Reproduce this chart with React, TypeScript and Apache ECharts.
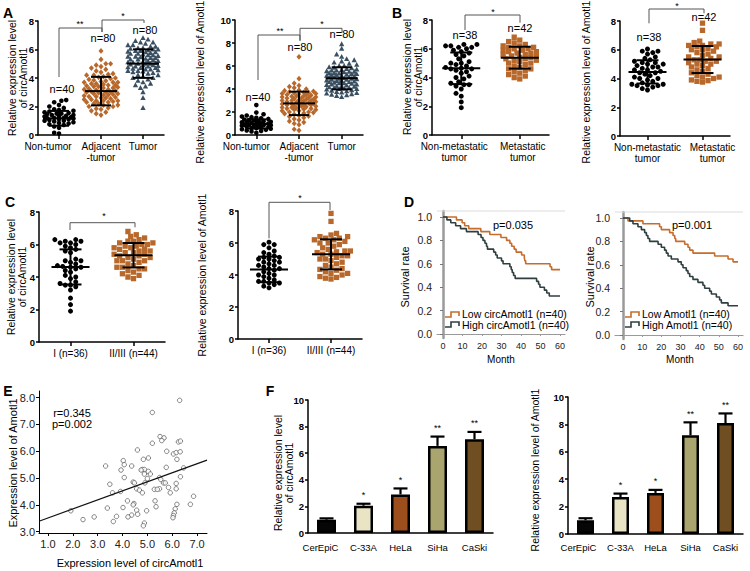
import React, { useEffect, useRef } from "react";
import * as echarts from "echarts";

const FONT = '"Liberation Sans", Arial, Helvetica, sans-serif';
const BROWN = "#b8682a";
const SLATE = "#3a5062";
const KM_LOW = "#c46d2c";
const KM_HIGH = "#2f3f40";

// ---------------- Panel A ----------------
const aCategories = ["Non-tumor", "Adjacent\n-tumor", "Tumor"];
const aCircNonTumor = [0.1, 0.15, 0.5, 0.6, 0.7, 0.75, 0.8, 0.85, 0.9, 0.95, 1.0, 1.0, 1.05, 1.1, 1.1, 1.15, 1.2, 1.2, 1.2, 1.25, 1.3, 1.3, 1.35, 1.4, 1.4, 1.45, 1.5, 1.5, 1.55, 1.6, 1.65, 1.7, 1.75, 1.8, 1.9, 2.0, 2.1, 2.3, 2.4, 2.45];
const aCircAdjacent = [1.4, 1.5, 1.6, 1.7, 1.8, 1.85, 1.9, 2.0, 2.0, 2.1, 2.1, 2.2, 2.2, 2.3, 2.3, 2.35, 2.4, 2.4, 2.5, 2.5, 2.55, 2.6, 2.6, 2.65, 2.7, 2.7, 2.75, 2.8, 2.8, 2.85, 2.9, 2.9, 2.95, 3.0, 3.0, 3.0, 3.05, 3.1, 3.1, 3.15, 3.2, 3.2, 3.25, 3.3, 3.3, 3.35, 3.4, 3.4, 3.45, 3.5, 3.5, 3.55, 3.6, 3.6, 3.7, 3.7, 3.75, 3.8, 3.85, 3.9, 3.95, 4.0, 4.05, 4.1, 4.2, 4.25, 4.3, 4.4, 4.5, 4.6, 4.7, 4.8, 4.9, 5.0, 5.0, 4.2, 3.7, 2.4, 5.3, 5.9];
const aCircTumor = [1.9, 2.6, 3.0, 3.3, 3.5, 3.6, 3.7, 3.8, 3.9, 4.0, 4.0, 4.1, 4.2, 4.2, 4.3, 4.35, 4.4, 4.45, 4.5, 4.5, 4.55, 4.6, 4.6, 4.65, 4.7, 4.7, 4.75, 4.8, 4.8, 4.85, 4.9, 4.9, 4.95, 5.0, 5.0, 5.0, 5.05, 5.1, 5.1, 5.15, 5.2, 5.2, 5.25, 5.3, 5.3, 5.35, 5.4, 5.4, 5.45, 5.5, 5.5, 5.55, 5.6, 5.6, 5.65, 5.7, 5.7, 5.75, 5.8, 5.8, 5.85, 5.9, 5.9, 5.95, 6.0, 6.0, 6.05, 6.1, 6.1, 6.2, 6.2, 6.3, 6.3, 6.4, 6.5, 6.5, 6.6, 6.7, 6.8, 3.4];
const aCircMean = [1.17, 3.08, 5.01];
const aCircSd = [0.52, 1.0, 1.0];

const aAmNonTumor = [0.2, 0.3, 0.35, 0.4, 0.45, 0.5, 0.55, 0.6, 0.6, 0.65, 0.7, 0.7, 0.75, 0.8, 0.8, 0.85, 0.85, 0.9, 0.9, 0.95, 1.0, 1.0, 1.05, 1.1, 1.1, 1.15, 1.2, 1.2, 1.25, 1.3, 1.35, 1.4, 1.45, 1.5, 1.55, 1.6, 1.7, 1.8, 1.95, 2.6];
const aAmAdjacent = [0.4, 0.5, 0.9, 1.1, 1.2, 1.3, 1.4, 1.5, 1.6, 1.65, 1.7, 1.8, 1.85, 1.9, 2.0, 2.0, 2.1, 2.1, 2.2, 2.2, 2.25, 2.3, 2.3, 2.4, 2.4, 2.45, 2.5, 2.5, 2.55, 2.6, 2.6, 2.65, 2.7, 2.7, 2.75, 2.8, 2.8, 2.85, 2.9, 2.9, 2.95, 3.0, 3.0, 3.05, 3.1, 3.1, 3.15, 3.2, 3.2, 3.25, 3.3, 3.3, 3.35, 3.4, 3.4, 3.45, 3.5, 3.5, 3.55, 3.6, 3.6, 3.65, 3.7, 3.7, 3.75, 3.8, 3.85, 3.9, 4.0, 4.1, 4.2, 4.3, 4.5, 4.9, 6.8, 1.0, 1.95, 2.35, 2.65, 3.0];
const aAmTumor = [3.3, 3.4, 3.5, 3.55, 3.6, 3.65, 3.7, 3.75, 3.8, 3.85, 3.9, 3.95, 4.0, 4.0, 4.05, 4.1, 4.15, 4.2, 4.2, 4.25, 4.3, 4.35, 4.4, 4.4, 4.45, 4.5, 4.5, 4.55, 4.6, 4.6, 4.65, 4.7, 4.7, 4.75, 4.8, 4.8, 4.85, 4.9, 4.9, 4.95, 5.0, 5.0, 5.05, 5.1, 5.1, 5.15, 5.2, 5.2, 5.25, 5.3, 5.3, 5.35, 5.4, 5.4, 5.45, 5.5, 5.5, 5.55, 5.6, 5.65, 5.7, 5.75, 5.8, 5.85, 5.9, 6.0, 6.0, 6.1, 6.2, 6.3, 6.4, 6.5, 6.6, 6.8, 7.0, 7.5, 7.9, 3.45, 4.1, 5.6];
const aAmMean = [0.96, 2.75, 4.93];
const aAmSd = [0.4, 1.02, 0.96];

// ---------------- Panel B ----------------
const bCategories = ["Non-metastatic\ntumor", "Metastatic\ntumor"];
const bCircNonMet = [1.9, 2.3, 2.7, 2.9, 3.2, 3.4, 3.5, 3.5, 3.6, 3.7, 3.9, 4.0, 4.1, 4.3, 4.4, 4.5, 4.6, 4.6, 4.65, 4.7, 4.8, 4.9, 5.0, 5.0, 5.1, 5.3, 5.5, 5.6, 5.7, 5.8, 5.9, 6.0, 6.1, 6.1, 6.2, 6.2, 6.3, 6.3];
const bCircMet = [3.9, 4.0, 4.1, 4.2, 4.3, 4.4, 4.5, 4.6, 4.6, 4.7, 4.8, 4.9, 5.0, 5.0, 5.1, 5.2, 5.2, 5.3, 5.3, 5.4, 5.4, 5.5, 5.5, 5.6, 5.6, 5.7, 5.7, 5.8, 5.8, 5.9, 5.9, 6.0, 6.0, 6.1, 6.1, 6.2, 6.2, 6.3, 6.4, 6.5, 6.6, 6.8];
const bCircMean = [4.64, 5.38];
const bCircSd = [1.1, 0.76];
const bAmNonMet = [3.2, 3.3, 3.4, 3.5, 3.5, 3.55, 3.6, 3.6, 3.7, 3.8, 3.9, 4.0, 4.0, 4.1, 4.2, 4.3, 4.4, 4.4, 4.5, 4.6, 4.6, 4.7, 4.8, 4.8, 4.9, 5.0, 5.0, 5.1, 5.1, 5.2, 5.3, 5.4, 5.5, 5.7, 5.8, 5.9, 5.9, 6.05];
const bAmMet = [3.75, 3.8, 3.85, 3.9, 4.0, 4.1, 4.1, 4.2, 4.3, 4.4, 4.5, 4.6, 4.7, 4.8, 4.9, 5.0, 5.0, 5.1, 5.2, 5.2, 5.3, 5.3, 5.4, 5.5, 5.5, 5.6, 5.7, 5.8, 5.9, 6.0, 6.0, 6.1, 6.2, 6.2, 6.3, 6.3, 6.4, 6.4, 6.5, 6.6, 7.35, 7.85];
const bAmMean = [4.46, 5.32];
const bAmSd = [0.81, 0.94];

// ---------------- Panel C ----------------
const cCategories = ["I (n=36)", "II/III (n=44)"];
const cCircStageI = [1.9, 2.3, 2.7, 3.2, 3.4, 3.5, 3.5, 3.6, 3.7, 3.9, 4.0, 4.1, 4.3, 4.4, 4.5, 4.6, 4.6, 4.65, 4.7, 4.8, 4.9, 5.0, 5.0, 5.1, 5.5, 5.6, 5.7, 5.8, 6.0, 6.1, 6.1, 6.2, 6.2, 6.3, 6.3, 5.9];
const cCircStageII = [3.9, 4.0, 4.1, 4.2, 4.3, 4.4, 4.5, 4.6, 4.6, 4.7, 4.8, 4.9, 5.0, 5.0, 5.1, 5.2, 5.2, 5.3, 5.3, 5.4, 5.4, 5.5, 5.5, 5.6, 5.6, 5.7, 5.7, 5.8, 5.8, 5.9, 5.9, 6.0, 6.0, 6.1, 6.1, 6.2, 6.2, 6.3, 6.4, 6.5, 6.6, 6.8, 4.5, 5.0];
const cCircMean = [4.62, 5.34];
const cCircSd = [1.08, 0.75];
const cAmStageI = [3.2, 3.3, 3.4, 3.5, 3.5, 3.6, 3.6, 3.7, 3.8, 3.9, 4.0, 4.0, 4.1, 4.2, 4.3, 4.4, 4.4, 4.5, 4.6, 4.6, 4.7, 4.8, 4.8, 4.9, 5.0, 5.0, 5.1, 5.1, 5.2, 5.3, 5.4, 5.5, 5.7, 5.9, 5.9, 6.05];
const cAmStageII = [3.75, 3.8, 3.85, 3.9, 4.0, 4.1, 4.1, 4.2, 4.3, 4.4, 4.5, 4.6, 4.7, 4.8, 4.9, 5.0, 5.0, 5.1, 5.2, 5.2, 5.3, 5.3, 5.4, 5.5, 5.5, 5.6, 5.7, 5.8, 5.9, 6.0, 6.0, 6.1, 6.2, 6.2, 6.3, 6.3, 6.4, 6.4, 6.5, 6.6, 7.35, 7.85, 4.35, 5.45];
const cAmMean = [4.35, 5.29];
const cAmSd = [0.8, 0.94];

// ---------------- Panel D (Kaplan-Meier) ----------------
const kmMonthTicks = [0, 10, 20, 30, 40, 50, 60];
const kmSurvivalTicks = [0, 0.2, 0.4, 0.6, 0.8, 1.0];
const kmLowCirc = [[0, 1], [6.9, 0.975], [9.8, 0.95], [11.1, 0.925], [13.2, 0.9], [19.4, 0.875], [24, 0.85], [29.7, 0.825], [32.6, 0.8], [34.3, 0.775], [35.2, 0.75], [36.5, 0.725], [37.5, 0.7], [40.3, 0.675], [41.7, 0.65], [42, 0.625], [42.4, 0.6], [54.9, 0.575], [55.7, 0.55], [60, 0.55]];
const kmHighCirc = [[0, 1], [2, 0.975], [4, 0.95], [6.5, 0.925], [9, 0.9], [12, 0.875], [18, 0.85], [19.5, 0.825], [20.5, 0.8], [21.5, 0.775], [22.3, 0.75], [22.8, 0.725], [26, 0.7], [27, 0.675], [27.8, 0.65], [30, 0.625], [30.8, 0.6], [34.3, 0.575], [35, 0.55], [35.5, 0.525], [36.2, 0.5], [37, 0.475], [48, 0.45], [49, 0.425], [49.7, 0.4], [52, 0.375], [53.2, 0.35], [54.5, 0.325], [60, 0.325]];
const kmLowAm = [[0, 1], [2.6, 0.975], [10.4, 0.95], [19.1, 0.925], [20, 0.9], [24.3, 0.875], [26.1, 0.85], [27, 0.825], [27.5, 0.8], [32.2, 0.775], [33.9, 0.75], [34.8, 0.725], [36.5, 0.7], [47.8, 0.675], [54.8, 0.65], [57.4, 0.625], [60, 0.625]];
const kmHighAm = [[0, 1], [3.5, 0.975], [5.2, 0.95], [7.8, 0.925], [9.6, 0.9], [11.3, 0.875], [12.2, 0.85], [13, 0.825], [13.9, 0.8], [18.3, 0.775], [20, 0.75], [21.7, 0.725], [22.6, 0.7], [23.5, 0.675], [25.2, 0.65], [28.7, 0.625], [30.4, 0.6], [31.3, 0.575], [33, 0.55], [33.9, 0.525], [34.8, 0.5], [36.5, 0.475], [39.1, 0.45], [41.7, 0.425], [42.6, 0.4], [45.2, 0.375], [46.1, 0.35], [48.7, 0.325], [50.4, 0.3], [51.3, 0.275], [54.8, 0.25], [60, 0.25]];

// ---------------- Panel E (correlation) ----------------
const eXTicks = [1, 2, 3, 4, 5, 6, 7];
const eYTicks = [3, 4, 5, 6, 7, 8];
const ePoints = [[6.3, 7.9], [5.2, 7.45], [3.32, 5.45], [4.03, 5.65], [4.07, 5.5], [3.94, 5.3], [4.37, 5.45], [4.6, 6.05], [4.84, 5.7], [4.8, 5.32], [4.88, 5.32], [5.04, 5.75], [5.04, 5.25], [4.88, 5.15], [4.07, 5.02], [3.49, 4.77], [3.6, 4.45], [3.92, 4.5], [4.2, 4.15], [4.43, 4.85], [4.48, 4.82], [4.57, 4.6], [4.68, 4.55], [4.8, 4.45], [4.9, 4.82], [5.0, 4.98], [5.12, 5.15], [5.2, 6.3], [5.28, 4.58], [5.31, 4.15], [5.35, 3.93], [5.51, 6.55], [5.67, 6.5], [5.58, 6.4], [5.78, 6.0], [5.49, 5.02], [5.54, 4.95], [5.65, 4.82], [5.72, 4.82], [5.76, 5.4], [5.85, 4.65], [5.92, 4.45], [5.49, 4.6], [6.05, 5.9], [6.16, 5.95], [6.25, 6.35], [6.33, 6.38], [6.32, 5.98], [6.19, 5.7], [6.46, 5.38], [6.33, 5.05], [6.16, 4.8], [6.16, 4.6], [6.19, 4.02], [6.12, 3.85], [6.08, 3.7], [6.05, 3.6], [6.03, 3.52], [6.73, 4.02], [6.86, 4.32], [4.46, 4.05], [4.43, 4.0], [4.57, 3.8], [4.61, 3.65], [4.37, 3.62], [4.22, 3.55], [4.97, 3.78], [4.88, 3.32], [4.84, 3.22], [3.39, 3.88], [3.76, 3.57], [3.63, 3.38], [2.86, 3.55], [2.41, 3.45], [1.92, 3.78], [4.02, 3.9], [4.75, 5.3], [5.4, 4.58]];
const eFitLine = [[0.64, 3.39], [7.4, 5.67]];

// ---------------- Panel F (cell lines) ----------------
const fCells = ["CerEpiC", "C-33A", "HeLa", "SiHa", "CaSki"];
const fColors = ["#060606", "#e8e4c4", "#9c4f1c", "#aaa46e", "#6f4e22"];
const fCircValues = [1.0, 2.05, 2.9, 6.55, 7.05];
const fCircErr = [0.1, 0.15, 0.45, 0.7, 0.55];
const fAmValues = [1.0, 2.7, 3.0, 7.2, 8.1];
const fAmErr = [0.15, 0.25, 0.22, 0.95, 0.7];
const fSignificance = ["", "*", "*", "**", "**"];

// ---------------- helpers ----------------
function beeswarm(values: number[], pxPerUnit: number, d: number, maxHalf: number) {
  const order = values.map((_, i) => i).sort((a, b) => values[a] - values[b]);
  const placed: { x: number; y: number }[] = [];
  const off = new Array(values.length).fill(0);
  const step = d * 0.55;
  order.forEach((i, n) => {
    const y = values[i] * pxPerUnit;
    const sign = n % 2 === 0 ? 1 : -1;
    let chosen = 0;
    let bestScore = -1;
    let found = false;
    for (let k = 0; k < 60; k++) {
      const x = k === 0 ? 0 : (k % 2 === 1 ? sign : -sign) * Math.ceil(k / 2) * step;
      if (Math.abs(x) > maxHalf) break;
      let minD = Infinity;
      for (const p of placed) {
        const dd = Math.hypot(p.x - x, p.y - y);
        if (dd < minD) minD = dd;
      }
      if (minD >= d) {
        chosen = x;
        found = true;
        break;
      }
      if (minD > bestScore) {
        bestScore = minD;
        chosen = x;
      }
    }
    if (!found && bestScore < 0) chosen = 0;
    placed.push({ x: chosen, y });
    off[i] = chosen;
  });
  return off;
}

function marker(shape: string, x: number, y: number, color: string, s: number) {
  if (shape === "circle") return { type: "circle", shape: { cx: x, cy: y, r: s / 2 }, style: { fill: color } };
  if (shape === "square") return { type: "rect", shape: { x: x - s / 2, y: y - s / 2, width: s, height: s }, style: { fill: color } };
  if (shape === "diamond")
    return { type: "polygon", shape: { points: [[x, y - s * 0.62], [x + s * 0.55, y], [x, y + s * 0.62], [x - s * 0.55, y]] }, style: { fill: color } };
  return { type: "polygon", shape: { points: [[x, y - s * 0.6], [x + s * 0.55, y + s * 0.42], [x - s * 0.55, y + s * 0.42]] }, style: { fill: color } };
}

function dotSeries(axis: number, values: number[], cat: number, shape: string, color: string, pxPerUnit: number, size: number, maxHalf: number) {
  const offs = beeswarm(values, pxPerUnit, size * 0.95, maxHalf);
  return {
    type: "custom",
    xAxisIndex: axis,
    yAxisIndex: axis,
    silent: true,
    z: 2,
    clip: false,
    data: values.map((v, i) => [cat, v, offs[i]]),
    renderItem: (_p: any, api: any) => {
      const c = api.coord([api.value(0), api.value(1)]);
      return marker(shape, c[0] + api.value(2), c[1], color, size);
    },
  };
}

function meanSdSeries(axis: number, means: number[], sds: number[], halfMean: number, halfCap: number) {
  return {
    type: "custom",
    xAxisIndex: axis,
    yAxisIndex: axis,
    silent: true,
    z: 5,
    clip: false,
    data: means.map((m, i) => [i, m, sds[i]]),
    renderItem: (_p: any, api: any) => {
      const i = api.value(0);
      const m = api.value(1);
      const sd = api.value(2);
      const c = api.coord([i, m]);
      const t = api.coord([i, m + sd]);
      const b = api.coord([i, m - sd]);
      const st = { stroke: "#000", lineWidth: 2 };
      return {
        type: "group",
        children: [
          { type: "line", shape: { x1: c[0], y1: t[1], x2: c[0], y2: b[1] }, style: st },
          { type: "line", shape: { x1: c[0] - halfCap, y1: t[1], x2: c[0] + halfCap, y2: t[1] }, style: st },
          { type: "line", shape: { x1: c[0] - halfCap, y1: b[1], x2: c[0] + halfCap, y2: b[1] }, style: st },
          { type: "line", shape: { x1: c[0] - halfMean, y1: c[1], x2: c[0] + halfMean, y2: c[1] }, style: st },
        ],
      };
    },
  };
}

// shifts: horizontal nudge (px) of each category label, as in the original figure
function catXAxis(grid: number, cats: string[], ticks = true, fontSize = 10, shifts: number[] = []) {
  return {
    type: "category",
    gridIndex: grid,
    data: cats.map((c, i) => {
      const s = shifts[i] || 0;
      if (!s) return c;
      return { value: c, textStyle: { padding: s < 0 ? [0, -2 * s, 0, 0] : [0, 0, 0, 2 * s] } };
    }),
    boundaryGap: true,
    axisLine: { show: true, lineStyle: { color: "#000", width: 1.5 } },
    axisTick: { show: ticks, alignWithLabel: true, length: 4, lineStyle: { color: "#000", width: 1.5 } },
    axisLabel: { color: "#000", fontFamily: FONT, fontSize, margin: 6, lineHeight: 11, interval: 0 },
    splitLine: { show: false },
  };
}

function boldYAxis(grid: number, max: number) {
  return {
    type: "value",
    gridIndex: grid,
    min: 0,
    max,
    interval: 2,
    axisLine: { show: true, lineStyle: { color: "#000", width: 1.5 } },
    axisTick: { show: true, length: 3, lineStyle: { color: "#000", width: 1.5 } },
    axisLabel: { color: "#000", fontFamily: FONT, fontSize: 9.5, fontWeight: "bold", margin: 4 },
    splitLine: { show: false },
  };
}

function kmXAxis(grid: number, min: number, max: number) {
  return {
    type: "value",
    gridIndex: grid,
    min,
    max,
    axisLine: { show: true, lineStyle: { color: "#9a9a9a", width: 1.2 } },
    axisTick: { show: true, customValues: kmMonthTicks, length: 2, lineStyle: { color: "#9a9a9a" } },
    axisLabel: { customValues: kmMonthTicks, color: "#222", fontFamily: FONT, fontSize: 9, margin: 3 },
    splitLine: { show: false },
  };
}

function kmYAxis(grid: number) {
  return {
    type: "value",
    gridIndex: grid,
    min: -0.034,
    max: 1.051,
    axisLine: { show: true, lineStyle: { color: "#9a9a9a", width: 2.5 } },
    axisTick: { show: true, customValues: kmSurvivalTicks, length: 3, lineStyle: { color: "#777" } },
    axisLabel: { customValues: kmSurvivalTicks, formatter: (v: number) => v.toFixed(1), color: "#222", fontFamily: FONT, fontSize: 10.5, margin: 5 },
    splitLine: { show: false },
  };
}

function kmSeries(axis: number, name: string, data: number[][], color: string) {
  return {
    type: "line",
    name,
    xAxisIndex: axis,
    yAxisIndex: axis,
    data,
    step: "end",
    showSymbol: false,
    silent: true,
    lineStyle: { color, width: 1.6 },
    z: 3,
  };
}

function errorSeries(axis: number, values: number[], errs: number[], halfCap: number) {
  return {
    type: "custom",
    xAxisIndex: axis,
    yAxisIndex: axis,
    silent: true,
    z: 5,
    clip: false,
    data: values.map((v, i) => [i, v, errs[i]]),
    renderItem: (p: any, api: any) => {
      const i = api.value(0);
      const v = api.value(1);
      const e = api.value(2);
      const b = api.coord([i, v]);
      const t = api.coord([i, v + e]);
      const st = { stroke: "#000", lineWidth: 2.2 };
      return {
        type: "group",
        children: [
          { type: "line", shape: { x1: b[0], y1: b[1], x2: b[0], y2: t[1] }, style: st },
          { type: "line", shape: { x1: b[0] - halfCap, y1: t[1], x2: b[0] + halfCap, y2: t[1] }, style: st },
          {
            type: "text",
            x: b[0],
            y: t[1] - 4,
            style: { text: fSignificance[p.dataIndex], fill: "#000", fontFamily: FONT, fontSize: 9, align: "center", verticalAlign: "bottom", textAlign: "center", textVerticalAlign: "bottom" },
          },
        ],
      };
    },
  };
}

function txt(x: number, y: number, text: string, size = 11, weight = "normal", align = "center", lineHeight?: number) {
  return {
    type: "text",
    x,
    y,
    silent: true,
    z: 100,
    style: {
      text,
      fill: "#000",
      fontFamily: FONT,
      fontSize: size,
      fontWeight: weight,
      lineHeight: lineHeight ?? size + 1,
      align,
      verticalAlign: "middle",
      textAlign: align,
      textVerticalAlign: "middle",
    },
  };
}

function vtxt(x: number, y: number, text: string, size = 10.5, lineHeight = 11) {
  const t: any = txt(x, y, text, size, "normal", "center", lineHeight);
  t.rotation = Math.PI / 2;
  return t;
}

function pline(points: number[][], color = "#444", width = 1) {
  return { type: "polyline", silent: true, z: 100, shape: { points }, style: { stroke: color, lineWidth: width, fill: null } };
}

export default function App() {
  const ref = useRef<HTMLDivElement>(null);

  useEffect(() => {
    document.body.style.margin = "0";
    const chart = echarts.init(ref.current as HTMLDivElement, undefined, { renderer: "svg" });

    const grids = [
      { left: 38, top: 21, width: 126, height: 114 },
      { left: 235, top: 20, width: 128, height: 115 },
      { left: 432, top: 20, width: 117, height: 115 },
      { left: 620, top: 21, width: 110, height: 115 },
      { left: 39, top: 212, width: 126, height: 130 },
      { left: 238, top: 211, width: 124, height: 128 },
      { left: 437, top: 211, width: 128, height: 127 },
      { left: 615, top: 212, width: 128, height: 127 },
      { left: 39, top: 391, width: 168, height: 142 },
      { left: 308, top: 400, width: 185, height: 133 },
      { left: 568, top: 397, width: 175, height: 137 },
    ];

    const xAxis: any[] = [
      catXAxis(0, aCategories, true, 10, [-11, 0, 0]),
      catXAxis(1, aCategories, true, 10, [-10, 0, 0]),
      catXAxis(2, bCategories, true, 10, [-7, 3]),
      catXAxis(3, bCategories, true, 10, [0, 10]),
      catXAxis(4, cCategories, true, 10),
      catXAxis(5, cCategories, true, 10),
      kmXAxis(6, -3.08, 62.56),
      kmXAxis(7, -4.17, 62.6),
      {
        type: "value",
        gridIndex: 8,
        min: 0.64,
        max: 7.4,
        axisLine: { show: true, lineStyle: { color: "#000", width: 1 } },
        axisTick: { show: true, customValues: eXTicks, length: 3, lineStyle: { color: "#000" } },
        axisLabel: { customValues: eXTicks, formatter: (v: number) => v.toFixed(1), color: "#222", fontFamily: FONT, fontSize: 11, margin: 5 },
        splitLine: { show: false },
      },
      catXAxis(9, fCells, false, 9.5, [-6, 0, 0, 0, 0]),
      catXAxis(10, fCells, false, 9.5, [-7, 0, 0, 0, 0]),
    ];
    xAxis[9].axisLabel.margin = 9;
    xAxis[10].axisLabel.margin = 8;

    const yAxis: any[] = [
      boldYAxis(0, 8),
      boldYAxis(1, 10),
      boldYAxis(2, 8),
      boldYAxis(3, 8),
      boldYAxis(4, 8),
      boldYAxis(5, 8),
      kmYAxis(6),
      kmYAxis(7),
      {
        type: "value",
        gridIndex: 8,
        min: 2.95,
        max: 8.25,
        axisLine: { show: true, lineStyle: { color: "#000", width: 1 } },
        axisTick: { show: true, customValues: eYTicks, length: 3, lineStyle: { color: "#000" } },
        axisLabel: { customValues: eYTicks, formatter: (v: number) => v.toFixed(1), color: "#222", fontFamily: FONT, fontSize: 11, margin: 4 },
        splitLine: { show: false },
      },
      boldYAxis(9, 10),
      boldYAxis(10, 10),
    ];

    const series: any[] = [
      // A left
      dotSeries(0, aCircNonTumor, 0, "circle", "#000", 14.25, 4.6, 16),
      dotSeries(0, aCircAdjacent, 1, "diamond", BROWN, 14.25, 4.6, 17),
      dotSeries(0, aCircTumor, 2, "triangle", SLATE, 14.25, 4.8, 17),
      meanSdSeries(0, aCircMean, aCircSd, 16, 10),
      // A right
      dotSeries(1, aAmNonTumor, 0, "circle", "#000", 11.5, 4.6, 16),
      dotSeries(1, aAmAdjacent, 1, "diamond", BROWN, 11.5, 4.6, 17),
      dotSeries(1, aAmTumor, 2, "triangle", SLATE, 11.5, 4.8, 17),
      meanSdSeries(1, aAmMean, aAmSd, 16, 10),
      // B
      dotSeries(2, bCircNonMet, 0, "circle", "#000", 14.4, 5, 19),
      dotSeries(2, bCircMet, 1, "square", BROWN, 14.4, 5.3, 19),
      meanSdSeries(2, bCircMean, bCircSd, 19, 11),
      dotSeries(3, bAmNonMet, 0, "circle", "#000", 14.4, 5, 19),
      dotSeries(3, bAmMet, 1, "square", BROWN, 14.4, 5.3, 19),
      meanSdSeries(3, bAmMean, bAmSd, 19, 11),
      // C
      dotSeries(4, cCircStageI, 0, "circle", "#000", 16.25, 5, 20),
      dotSeries(4, cCircStageII, 1, "square", BROWN, 16.25, 5.3, 20),
      meanSdSeries(4, cCircMean, cCircSd, 19, 11),
      dotSeries(5, cAmStageI, 0, "circle", "#000", 16, 5, 20),
      dotSeries(5, cAmStageII, 1, "square", BROWN, 16, 5.3, 20),
      meanSdSeries(5, cAmMean, cAmSd, 19, 11),
      // D
      kmSeries(6, "Low circAmotl1 (n=40)", kmLowCirc, KM_LOW),
      kmSeries(6, "High circAmotl1 (n=40)", kmHighCirc, KM_HIGH),
      kmSeries(7, "Low Amotl1 (n=40)", kmLowAm, KM_LOW),
      kmSeries(7, "High Amotl1 (n=40)", kmHighAm, KM_HIGH),
      // E
      {
        type: "scatter",
        xAxisIndex: 8,
        yAxisIndex: 8,
        data: ePoints,
        symbol: "circle",
        symbolSize: 4.5,
        silent: true,
        itemStyle: { color: "#fff", borderColor: "#555", borderWidth: 0.9 },
      },
      {
        type: "line",
        xAxisIndex: 8,
        yAxisIndex: 8,
        data: eFitLine,
        showSymbol: false,
        silent: true,
        lineStyle: { color: "#111", width: 1.2 },
      },
      // F
      {
        type: "bar",
        xAxisIndex: 9,
        yAxisIndex: 9,
        barWidth: 19,
        silent: true,
        data: fCircValues.map((v, i) => ({ value: v, itemStyle: { color: fColors[i] } })),
        itemStyle: { borderColor: "#000", borderWidth: 2.5 },
      },
      errorSeries(9, fCircValues, fCircErr, 7),
      {
        type: "bar",
        xAxisIndex: 10,
        yAxisIndex: 10,
        barWidth: 17,
        silent: true,
        data: fAmValues.map((v, i) => ({ value: v, itemStyle: { color: fColors[i] } })),
        itemStyle: { borderColor: "#000", borderWidth: 2.5 },
      },
      errorSeries(10, fAmValues, fAmErr, 7),
    ];

    const BR = "#555";
    const graphic: any[] = [
      // panel letters
      txt(8, 13, "A", 14, "bold"),
      txt(397, 13, "B", 14, "bold"),
      txt(10, 202, "C", 14, "bold"),
      txt(409, 202, "D", 14, "bold"),
      txt(8, 391, "E", 14, "bold"),
      txt(270, 391, "F", 14, "bold"),
      // axis titles
      vtxt(17.5, 78, "Relative expression level\nof circAmotl1"),
      vtxt(200, 82, "Relative expression level of Amotl1"),
      vtxt(412, 77, "Relative expression level\nof circAmotl1"),
      vtxt(586, 82, "Relative expression level of Amotl1"),
      vtxt(16, 277, "Relative expression level\nof circAmotl1"),
      vtxt(202, 275, "Relative expression level of Amotl1"),
      vtxt(405, 277, "Survival rate", 11),
      vtxt(590, 277, "Survival rate", 11),
      txt(501, 359, "Month", 10),
      txt(680, 359, "Month", 10),
      vtxt(13, 463, "Expression level of Amotl1", 11),
      txt(130, 563, "Expression level of circAmotl1", 11),
      vtxt(283, 473, "Relative expression level\nof circAmotl1"),
      vtxt(535, 470, "Relative expression level of Amotl1"),
      // A left annotations
      pline([[59, 77], [59, 28], [102, 28], [102, 32]], BR),
      pline([[102, 32], [102, 20], [144, 20], [144, 23]], BR),
      txt(80, 24, "**", 9),
      txt(123, 16, "*", 9),
      txt(62, 89, "n=40", 11),
      txt(103, 38, "n=80", 11),
      txt(145, 30, "n=80", 11),
      // A right annotations
      pline([[258, 80], [258, 35], [300, 35], [300, 40.7]], BR),
      pline([[300, 40.7], [300, 28.3], [342, 28.3], [342, 32.7]], BR),
      txt(280, 31, "**", 9),
      txt(322, 24, "*", 9),
      txt(258, 96.7, "n=40", 11),
      txt(300, 46.7, "n=80", 11),
      txt(342, 34.3, "n=80", 11),
      // B annotations
      pline([[465, 30], [465, 15], [520, 15], [520, 22.7]], BR),
      txt(493, 12, "*", 9),
      txt(465, 35, "n=38", 11),
      txt(520, 28.3, "n=42", 11),
      pline([[649, 23.3], [649, 9], [704, 9], [704, 13.3]], BR),
      txt(677, 6, "*", 9),
      txt(649, 36.7, "n=38", 11),
      txt(704, 16.7, "n=42", 11),
      // C annotations
      pline([[70, 230], [70, 222.7], [135, 222.7], [135, 227.3]], BR),
      txt(104, 216, "*", 9),
      pline([[269, 238.3], [269, 202.3], [330, 202.3], [330, 210]], BR),
      txt(300, 198, "*", 9),
      // D frames, p-values, legends
      pline([[437, 211], [565, 211]], "#dcdcdc"),
      pline([[615, 212], [743, 212]], "#dcdcdc"),
      txt(513, 225, "p=0.035", 11),
      txt(692, 225, "p=0.001", 11),
      pline([[445, 317], [451, 317], [451, 312], [459, 312], [459, 316]], KM_LOW, 1.6),
      pline([[445, 327], [451, 327], [451, 322], [459, 322], [459, 326]], KM_HIGH, 1.6),
      txt(462, 314, "Low circAmotl1 (n=40)", 10.5, "normal", "left"),
      txt(462, 325, "High circAmotl1 (n=40)", 10.5, "normal", "left"),
      pline([[625, 317], [631, 317], [631, 312], [639, 312], [639, 316]], KM_LOW, 1.6),
      pline([[625, 327], [631, 327], [631, 322], [639, 322], [639, 326]], KM_HIGH, 1.6),
      txt(642, 314, "Low Amotl1 (n=40)", 10.5, "normal", "left"),
      txt(642, 325, "High Amotl1 (n=40)", 10.5, "normal", "left"),
      // E stats
      txt(72, 413, "r=0.345", 11),
      txt(72, 424, "p=0.002", 11),
    ];

    chart.setOption({
      animation: false,
      backgroundColor: "#fff",
      textStyle: { fontFamily: FONT },
      grid: grids,
      xAxis,
      yAxis,
      series,
      graphic,
    });

    return () => chart.dispose();
  }, []);

  return <div ref={ref} style={{ width: 750, height: 571 }} />;
}
